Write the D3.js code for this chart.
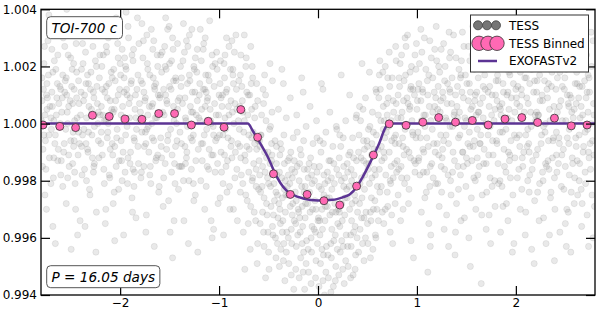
<!DOCTYPE html>
<html>
<head>
<meta charset="utf-8">
<script src="https://cdn.jsdelivr.net/npm/d3@7"></script>
<style>
  body { margin: 0; background: #fff; }
  svg { display: block; font-family: "DejaVu Sans", sans-serif; }
</style>
</head>
<body>
<svg id="chart" width="598" height="313"></svg>
<script>
// raw TESS points, phase (days) / relative flux, read strip by strip off the plot
const tessPoints = [
  [-2.79,1.0008],[-2.78,0.9991],[-2.77,1.0021],[-2.76,1.0003],[-2.75,0.9984],[-2.74,1.0014],[-2.73,1.0029],[-2.72,0.9996],[-2.71,1.0006],[-2.70,0.9979],[-2.69,1.0011],[-2.68,0.9964],[-2.68,1.0018],[-2.67,1.0001],[-2.66,0.9993],[-2.65,1.0034],[-2.64,1.0009],[-2.63,0.9987],[-2.63,1.0024],[-2.62,0.9999],[-2.61,1.0013],[-2.60,0.9982],[-2.79,1.0016],[-2.77,0.9996],[-2.74,1.0005],[-2.72,1.0038],[-2.70,1.0002],[-2.67,0.9988],[-2.65,1.0019],[-2.62,1.0007],[-2.76,0.9975],[-2.69,1.0026],
  [-2.59,1.0004],[-2.58,1.0017],[-2.57,0.9990],[-2.56,1.0027],[-2.55,0.9998],[-2.54,1.0010],[-2.53,0.9981],[-2.52,1.0006],[-2.51,1.0032],[-2.50,0.9994],[-2.49,1.0013],[-2.48,0.9986],[-2.47,1.0021],[-2.46,1.0001],[-2.45,0.9970],[-2.44,1.0009],[-2.43,0.9961],[-2.42,1.0015],[-2.41,0.9993],[-2.40,1.0003],[-2.58,0.9978],[-2.56,1.0011],[-2.54,1.0040],[-2.52,0.9989],[-2.50,1.0023],[-2.48,1.0007],[-2.46,0.9983],[-2.44,1.0018],[-2.42,0.9997],[-2.60,1.0012],[-2.53,1.0000],[-2.47,0.9992],
  [-2.39,1.0019],[-2.38,0.9996],[-2.37,1.0008],[-2.36,0.9984],[-2.35,1.0025],[-2.34,1.0002],[-2.33,0.9991],[-2.32,1.0014],[-2.31,0.9977],[-2.30,1.0033],[-2.29,1.0005],[-2.28,0.9988],[-2.27,1.0011],[-2.26,0.9999],[-2.25,1.0022],[-2.24,0.9969],[-2.23,1.0007],[-2.22,0.9994],[-2.21,1.0016],[-2.20,1.0003],[-2.38,1.0028],[-2.36,1.0010],[-2.34,0.9980],[-2.32,0.9997],[-2.30,1.0012],[-2.28,1.0036],[-2.26,0.9986],[-2.24,1.0020],[-2.22,1.0004],[-2.39,0.9992],[-2.33,1.0017],[-2.27,0.9983],
  [-2.19,1.0006],[-2.18,0.9989],[-2.17,1.0024],[-2.16,1.0001],[-2.15,0.9965],[-2.14,1.0013],[-2.13,0.9995],[-2.12,1.0030],[-2.11,0.9982],[-2.10,1.0008],[-2.09,1.0018],[-2.08,0.9993],[-2.07,1.0004],[-2.06,0.9976],[-2.05,1.0015],[-2.04,1.0037],[-2.03,0.9998],[-2.02,1.0010],[-2.01,0.9987],[-2.00,1.0021],[-2.18,1.0012],[-2.16,0.9979],[-2.14,1.0027],[-2.12,1.0000],[-2.10,0.9991],[-2.08,1.0016],[-2.06,1.0005],[-2.04,0.9985],[-2.02,1.0023],[-2.19,0.9997],[-2.13,1.0009],[-2.07,0.9972],
  [-1.99,1.0003],[-1.98,1.0026],[-1.97,0.9990],[-1.96,1.0011],[-1.95,0.9983],[-1.94,1.0019],[-1.93,0.9999],[-1.92,1.0034],[-1.91,1.0007],[-1.90,0.9986],[-1.89,1.0014],[-1.88,0.9974],[-1.87,1.0022],[-1.86,0.9995],[-1.85,1.0005],[-1.84,0.9967],[-1.83,1.0012],[-1.82,0.9992],[-1.81,1.0028],[-1.80,1.0001],[-1.98,0.9980],[-1.96,1.0016],[-1.94,1.0039],[-1.92,0.9988],[-1.90,1.0009],[-1.88,1.0024],[-1.86,0.9978],[-1.84,1.0002],[-1.82,1.0017],[-1.99,0.9994],[-1.93,1.0010],[-1.87,0.9984],
  [-1.79,1.0015],[-1.78,0.9997],[-1.77,1.0023],[-1.76,0.9985],[-1.75,1.0008],[-1.74,0.9962],[-1.73,1.0031],[-1.72,1.0003],[-1.71,0.9990],[-1.70,1.0017],[-1.69,0.9979],[-1.68,1.0006],[-1.67,1.0026],[-1.66,0.9994],[-1.65,1.0012],[-1.64,0.9987],[-1.63,1.0002],[-1.62,1.0020],[-1.61,0.9976],[-1.60,1.0009],[-1.78,1.0035],[-1.76,1.0011],[-1.74,0.9993],[-1.72,1.0019],[-1.70,0.9982],[-1.68,1.0000],[-1.66,1.0029],[-1.64,1.0014],[-1.62,0.9989],[-1.79,0.9981],[-1.73,0.9998],[-1.67,1.0007],
  [-1.59,0.9995],[-1.58,1.0018],[-1.57,1.0004],[-1.56,0.9981],[-1.55,1.0027],[-1.54,1.0010],[-1.53,0.9991],[-1.52,1.0033],[-1.51,0.9973],[-1.50,1.0013],[-1.49,0.9998],[-1.48,1.0022],[-1.47,0.9953],[-1.46,1.0006],[-1.45,0.9986],[-1.44,1.0016],[-1.43,1.0000],[-1.42,1.0028],[-1.41,0.9977],[-1.40,1.0009],[-1.58,0.9988],[-1.56,1.0012],[-1.54,1.0037],[-1.52,0.9994],[-1.50,1.0021],[-1.48,0.9983],[-1.46,1.0015],[-1.44,0.9992],[-1.42,1.0005],[-1.59,1.0024],[-1.53,1.0008],[-1.47,1.0030],
  [-1.39,1.0020],[-1.38,0.9993],[-1.37,1.0007],[-1.36,0.9980],[-1.35,1.0025],[-1.34,1.0002],[-1.33,0.9988],[-1.32,1.0014],[-1.31,0.9958],[-1.30,1.0031],[-1.29,1.0006],[-1.28,0.9984],[-1.27,1.0011],[-1.26,0.9996],[-1.25,1.0019],[-1.24,0.9975],[-1.23,1.0003],[-1.22,1.0026],[-1.21,0.9991],[-1.20,1.0010],[-1.38,1.0016],[-1.36,1.0035],[-1.34,0.9986],[-1.32,0.9999],[-1.30,1.0017],[-1.28,1.0004],[-1.26,0.9979],[-1.24,1.0023],[-1.22,1.0008],[-1.39,0.9985],[-1.33,1.0029],[-1.27,0.9994],
  [-1.19,1.0001],[-1.18,1.0022],[-1.17,0.9987],[-1.16,1.0012],[-1.15,0.9996],[-1.14,1.0030],[-1.13,0.9978],[-1.12,1.0008],[-1.11,1.0017],[-1.10,0.9991],[-1.09,1.0005],[-1.08,0.9966],[-1.07,1.0024],[-1.06,0.9999],[-1.05,1.0013],[-1.04,0.9983],[-1.03,1.0003],[-1.02,1.0019],[-1.01,0.9972],[-1.00,1.0010],[-1.18,0.9993],[-1.16,1.0026],[-1.14,1.0006],[-1.12,0.9985],[-1.10,1.0015],[-1.08,1.0000],[-1.06,0.9989],[-1.04,1.0021],[-1.02,0.9995],[-1.19,1.0033],[-1.13,1.0011],[-1.07,0.9960],
  [-0.99,1.0014],[-0.98,0.9990],[-0.97,1.0006],[-0.96,0.9979],[-0.95,1.0021],[-0.94,1.0002],[-0.93,0.9985],[-0.92,1.0012],[-0.91,0.9995],[-0.90,1.0027],[-0.89,0.9970],[-0.88,1.0008],[-0.87,0.9988],[-0.86,1.0017],[-0.85,1.0000],[-0.84,0.9981],[-0.83,1.0031],[-0.82,1.0005],[-0.81,0.9993],[-0.80,1.0015],[-0.98,1.0009],[-0.96,0.9996],[-0.94,1.0024],[-0.92,0.9976],[-0.90,1.0003],[-0.88,0.9992],[-0.86,1.0019],[-0.84,1.0007],[-0.82,0.9984],[-0.99,0.9974],[-0.93,1.0011],[-0.87,1.0029],
  [-0.79,1.0006],[-0.78,0.9988],[-0.77,1.0013],[-0.76,0.9979],[-0.75,0.9997],[-0.74,0.9949],[-0.73,1.0020],[-0.72,0.9992],[-0.71,1.0003],[-0.70,0.9983],[-0.69,1.0010],[-0.68,0.9971],[-0.67,0.9995],[-0.66,1.0016],[-0.65,0.9986],[-0.64,1.0002],[-0.63,0.9966],[-0.62,0.9991],[-0.61,1.0008],[-0.60,0.9977],[-0.78,1.0024],[-0.76,1.0004],[-0.74,0.9989],[-0.72,1.0011],[-0.70,0.9996],[-0.68,1.0027],[-0.66,0.9981],[-0.64,0.9993],[-0.62,1.0014],[-0.79,0.9992],[-0.73,0.9975],[-0.67,1.0005],[-0.61,0.9958],
  [-0.59,0.9994],[-0.58,0.9976],[-0.57,1.0003],[-0.56,0.9985],[-0.55,0.9962],[-0.54,0.9990],[-0.53,1.0010],[-0.52,0.9972],[-0.51,0.9981],[-0.50,0.9955],[-0.49,0.9998],[-0.48,0.9978],[-0.47,0.9987],[-0.46,1.0015],[-0.45,0.9968],[-0.44,0.9983],[-0.43,0.9960],[-0.42,0.9992],[-0.41,0.9975],[-0.40,1.0005],[-0.58,0.9996],[-0.56,0.9969],[-0.54,1.0017],[-0.52,0.9988],[-0.50,0.9979],[-0.48,0.9999],[-0.46,0.9964],[-0.44,0.9973],[-0.42,0.9986],[-0.59,0.9982],[-0.53,0.9946],[-0.47,0.9993],[-0.41,0.9958],[-0.55,1.0007],
  [-0.39,0.9983],[-0.38,0.9965],[-0.37,0.9991],[-0.36,0.9974],[-0.35,0.9952],[-0.34,0.9986],[-0.33,0.9969],[-0.32,1.0002],[-0.31,0.9978],[-0.30,0.9960],[-0.29,0.9988],[-0.28,0.9971],[-0.27,0.9947],[-0.26,0.9981],[-0.25,0.9995],[-0.24,0.9966],[-0.23,0.9976],[-0.22,0.9957],[-0.21,0.9985],[-0.20,0.9970],[-0.38,0.9993],[-0.36,0.9962],[-0.34,0.9977],[-0.32,0.9955],[-0.30,0.9982],[-0.28,1.0009],[-0.26,0.9968],[-0.24,0.9987],[-0.22,0.9973],[-0.39,0.9950],[-0.33,0.9980],[-0.27,0.9963],[-0.21,0.9997],[-0.35,1.0014],
  [-0.19,0.9980],[-0.18,0.9962],[-0.17,0.9989],[-0.16,0.9971],[-0.15,0.9948],[-0.14,0.9984],[-0.13,0.9967],[-0.12,0.9999],[-0.11,0.9975],[-0.10,0.9956],[-0.09,0.9986],[-0.08,0.9969],[-0.07,0.9944],[-0.06,0.9979],[-0.05,0.9993],[-0.04,0.9963],[-0.03,0.9973],[-0.02,0.9952],[-0.01,0.9983],[0.00,0.9966],[-0.18,0.9991],[-0.16,0.9958],[-0.14,0.9976],[-0.12,0.9951],[-0.10,0.9981],[-0.08,1.0006],[-0.06,0.9964],[-0.04,0.9985],[-0.02,0.9970],[-0.19,0.9946],[-0.13,0.9978],[-0.07,0.9960],[-0.01,0.9995],[-0.15,1.0011],
  [0.01,0.9978],[0.02,0.9961],[0.03,0.9990],[0.04,0.9970],[0.05,0.9945],[0.06,0.9982],[0.07,0.9966],[0.08,0.9997],[0.09,0.9974],[0.10,0.9954],[0.11,0.9987],[0.12,0.9968],[0.13,0.9941],[0.14,0.9977],[0.15,0.9992],[0.16,0.9959],[0.17,0.9972],[0.18,0.9950],[0.19,0.9984],[0.20,0.9965],[0.02,0.9994],[0.04,0.9956],[0.06,0.9975],[0.08,0.9948],[0.10,0.9980],[0.12,1.0004],[0.14,0.9963],[0.16,0.9986],[0.18,0.9969],[0.01,0.9943],[0.07,0.9979],[0.13,0.9958],[0.19,0.9998],[0.05,1.0012],
  [0.21,0.9982],[0.22,0.9964],[0.23,0.9992],[0.24,0.9972],[0.25,0.9949],[0.26,0.9985],[0.27,0.9968],[0.28,1.0001],[0.29,0.9977],[0.30,0.9957],[0.31,0.9989],[0.32,0.9970],[0.33,0.9946],[0.34,0.9980],[0.35,0.9995],[0.36,0.9962],[0.37,0.9975],[0.38,0.9954],[0.39,0.9987],[0.40,0.9969],[0.22,0.9996],[0.24,0.9959],[0.26,0.9978],[0.28,0.9952],[0.30,0.9983],[0.32,1.0010],[0.34,0.9966],[0.36,0.9988],[0.38,0.9973],[0.21,0.9947],[0.27,0.9981],[0.33,0.9961],[0.39,1.0003],
  [0.41,0.9990],[0.42,0.9972],[0.43,1.0001],[0.44,0.9981],[0.45,0.9958],[0.46,0.9994],[0.47,0.9977],[0.48,1.0009],[0.49,0.9986],[0.50,0.9965],[0.51,0.9998],[0.52,0.9979],[0.53,0.9953],[0.54,0.9989],[0.55,1.0004],[0.56,0.9970],[0.57,0.9984],[0.58,0.9961],[0.59,0.9996],[0.60,0.9978],[0.42,1.0006],[0.44,0.9967],[0.46,0.9987],[0.48,0.9960],[0.50,0.9992],[0.52,1.0018],[0.54,0.9974],[0.56,0.9997],[0.58,0.9982],[0.41,0.9955],[0.47,0.9991],[0.53,0.9969],[0.59,1.0011],
  [0.61,1.0003],[0.62,0.9984],[0.63,1.0012],[0.64,0.9992],[0.65,0.9969],[0.66,1.0006],[0.67,0.9988],[0.68,1.0020],[0.69,0.9997],[0.70,0.9976],[0.71,1.0009],[0.72,0.9990],[0.73,0.9962],[0.74,1.0001],[0.75,1.0016],[0.76,0.9981],[0.77,0.9995],[0.78,0.9972],[0.79,1.0007],[0.80,0.9987],[0.62,1.0017],[0.64,0.9978],[0.66,0.9998],[0.68,0.9970],[0.70,1.0003],[0.72,1.0025],[0.74,0.9985],[0.76,1.0008],[0.78,0.9993],[0.61,0.9966],[0.67,1.0001],[0.73,0.9980],[0.79,1.0022],
  [0.81,1.0010],[0.82,0.9993],[0.83,1.0021],[0.84,0.9985],[0.85,1.0004],[0.86,0.9970],[0.87,1.0015],[0.88,0.9998],[0.89,1.0027],[0.90,0.9981],[0.91,1.0007],[0.92,0.9990],[0.93,1.0018],[0.94,0.9959],[0.95,1.0001],[0.96,1.0012],[0.97,0.9987],[0.98,1.0024],[0.99,0.9995],[1.00,1.0005],[0.82,1.0016],[0.84,1.0002],[0.86,0.9992],[0.88,1.0030],[0.90,1.0009],[0.92,0.9977],[0.94,1.0013],[0.96,0.9996],[0.98,0.9983],[0.81,0.9975],[0.87,0.9989],[0.93,1.0006],[0.99,1.0019],
  [1.01,0.9997],[1.02,1.0014],[1.03,0.9982],[1.04,1.0008],[1.05,1.0025],[1.06,0.9991],[1.07,1.0003],[1.08,0.9974],[1.09,1.0019],[1.10,0.9995],[1.11,1.0010],[1.12,0.9965],[1.13,1.0029],[1.14,1.0001],[1.15,0.9986],[1.16,1.0016],[1.17,0.9993],[1.18,1.0006],[1.19,0.9979],[1.20,1.0022],[1.02,0.9988],[1.04,1.0033],[1.06,1.0011],[1.08,0.9999],[1.10,0.9983],[1.12,1.0017],[1.14,0.9961],[1.16,1.0004],[1.18,1.0026],[1.01,1.0012],[1.07,0.9990],[1.13,0.9978],[1.19,1.0009],[1.11,0.9948],
  [1.21,1.0005],[1.22,0.9989],[1.23,1.0018],[1.24,0.9996],[1.25,0.9976],[1.26,1.0011],[1.27,1.0028],[1.28,0.9984],[1.29,1.0002],[1.30,0.9968],[1.31,1.0014],[1.32,0.9993],[1.33,1.0023],[1.34,0.9980],[1.35,1.0007],[1.36,0.9999],[1.37,1.0031],[1.38,0.9987],[1.39,1.0010],[1.40,0.9972],[1.22,1.0020],[1.24,1.0008],[1.26,0.9991],[1.28,1.0015],[1.30,1.0001],[1.32,0.9957],[1.34,1.0025],[1.36,0.9983],[1.38,1.0004],[1.21,0.9979],[1.27,0.9994],[1.33,1.0012],[1.39,0.9962],
  [1.41,1.0013],[1.42,0.9995],[1.43,1.0004],[1.44,0.9982],[1.45,1.0022],[1.46,0.9990],[1.47,1.0009],[1.48,0.9967],[1.49,1.0017],[1.50,1.0001],[1.51,0.9986],[1.52,1.0027],[1.53,0.9997],[1.54,1.0011],[1.55,0.9974],[1.56,1.0006],[1.57,0.9992],[1.58,1.0019],[1.59,0.9980],[1.60,1.0003],[1.42,0.9977],[1.44,1.0016],[1.46,1.0032],[1.48,0.9999],[1.50,0.9988],[1.52,1.0008],[1.54,0.9950],[1.56,1.0024],[1.58,0.9994],[1.41,1.0002],[1.47,0.9985],[1.53,1.0014],[1.59,1.0010],
  [1.61,0.9998],[1.62,1.0016],[1.63,0.9985],[1.64,1.0007],[1.65,1.0024],[1.66,0.9975],[1.67,1.0002],[1.68,0.9991],[1.69,1.0012],[1.70,0.9963],[1.71,1.0020],[1.72,0.9996],[1.73,1.0006],[1.74,0.9981],[1.75,1.0029],[1.76,1.0010],[1.77,0.9989],[1.78,1.0001],[1.79,0.9971],[1.80,1.0015],[1.62,1.0004],[1.64,0.9993],[1.66,1.0019],[1.68,1.0035],[1.70,0.9986],[1.72,1.0011],[1.74,0.9999],[1.76,0.9978],[1.78,1.0023],[1.61,0.9988],[1.67,1.0013],[1.73,0.9968],[1.79,1.0005],[1.65,0.9944],
  [1.81,1.0008],[1.82,0.9986],[1.83,1.0021],[1.84,0.9997],[1.85,1.0003],[1.86,0.9978],[1.87,1.0014],[1.88,0.9991],[1.89,1.0026],[1.90,0.9983],[1.91,1.0010],[1.92,0.9966],[1.93,1.0005],[1.94,1.0017],[1.95,0.9994],[1.96,1.0001],[1.97,0.9975],[1.98,1.0030],[1.99,0.9988],[2.00,1.0012],[1.82,1.0015],[1.84,0.9980],[1.86,1.0007],[1.88,1.0022],[1.90,0.9998],[1.92,1.0011],[1.94,0.9989],[1.96,1.0033],[1.98,0.9958],[1.81,0.9993],[1.87,0.9971],[1.93,1.0018],[1.99,1.0004],
  [2.01,0.9995],[2.02,1.0013],[2.03,0.9984],[2.04,1.0006],[2.05,1.0023],[2.06,0.9977],[2.07,1.0002],[2.08,0.9990],[2.09,1.0016],[2.10,0.9969],[2.11,1.0009],[2.12,0.9998],[2.13,1.0028],[2.14,0.9982],[2.15,1.0004],[2.16,1.0019],[2.17,0.9987],[2.18,1.0011],[2.19,0.9973],[2.20,1.0001],[2.02,1.0025],[2.04,0.9992],[2.06,1.0010],[2.08,1.0034],[2.10,0.9996],[2.12,0.9980],[2.14,1.0014],[2.16,0.9956],[2.18,1.0020],[2.01,1.0007],[2.07,0.9985],[2.13,0.9993],[2.19,1.0015],
  [2.21,1.0011],[2.22,0.9991],[2.23,1.0003],[2.24,0.9979],[2.25,1.0020],[2.26,0.9996],[2.27,1.0008],[2.28,0.9967],[2.29,1.0015],[2.30,1.0000],[2.31,0.9985],[2.32,1.0026],[2.33,0.9994],[2.34,1.0005],[2.35,0.9974],[2.36,1.0013],[2.37,0.9988],[2.38,1.0022],[2.39,0.9981],[2.40,1.0002],[2.22,0.9976],[2.24,1.0017],[2.26,1.0031],[2.28,0.9999],[2.30,0.9986],[2.32,1.0009],[2.34,0.9961],[2.36,1.0024],[2.38,0.9995],[2.21,1.0004],[2.27,0.9983],[2.33,1.0014],[2.39,0.9952],
  [2.41,0.9997],[2.42,1.0016],[2.43,0.9986],[2.44,1.0006],[2.45,1.0027],[2.46,0.9978],[2.47,1.0001],[2.48,0.9991],[2.49,1.0012],[2.50,0.9965],[2.51,1.0019],[2.52,0.9995],[2.53,1.0007],[2.54,0.9982],[2.55,1.0029],[2.56,1.0009],[2.57,0.9988],[2.58,1.0002],[2.59,0.9972],[2.60,1.0014],[2.42,1.0004],[2.44,0.9993],[2.46,1.0020],[2.48,1.0033],[2.50,0.9985],[2.52,1.0010],[2.54,0.9998],[2.56,0.9976],[2.58,1.0023],[2.41,0.9989],[2.47,1.0013],[2.53,0.9969],[2.59,1.0005],[2.51,0.9957],
  [2.61,1.0007],[2.62,0.9987],[2.63,1.0020],[2.64,0.9996],[2.65,1.0002],[2.66,0.9977],[2.67,1.0013],[2.68,0.9990],[2.69,1.0025],[2.70,0.9983],[2.71,1.0009],[2.72,0.9968],[2.73,1.0004],[2.74,1.0016],[2.75,0.9993],[2.76,1.0000],[2.77,0.9975],[2.78,1.0029],[2.79,0.9989],[2.62,1.0014],[2.64,0.9980],[2.66,1.0006],[2.68,1.0021],[2.70,0.9997],[2.72,1.0011],[2.74,0.9988],[2.76,1.0032],[2.78,0.9960],[2.61,0.9992],[2.67,0.9972],[2.73,1.0017],[2.79,1.0003]
];

// second pass of raw points, read between the first ones
const tessPointsB = [
  [-2.795,1.0001],[-2.785,0.9985],[-2.775,1.0012],[-2.765,1.0027],[-2.755,0.9994],[-2.745,0.9970],[-2.735,1.0009],[-2.725,1.0017],[-2.715,0.9988],[-2.705,1.0031],[-2.695,0.9998],[-2.685,1.0006],[-2.675,0.9981],[-2.665,1.0022],[-2.655,0.9958],[-2.645,1.0003],[-2.635,1.0014],[-2.625,0.9991],[-2.615,1.0036],[-2.605,1.0000],[-2.745,1.0010],[-2.655,0.9996],
  [-2.595,0.9987],[-2.585,1.0009],[-2.575,1.0030],[-2.565,0.9993],[-2.555,1.0015],[-2.545,0.9972],[-2.535,1.0004],[-2.525,1.0024],[-2.515,0.9985],[-2.505,1.0008],[-2.495,0.9956],[-2.485,1.0019],[-2.475,0.9997],[-2.465,1.0012],[-2.455,0.9979],[-2.445,1.0028],[-2.435,1.0002],[-2.425,0.9989],[-2.415,1.0007],[-2.405,0.9966],[-2.545,1.0016],[-2.465,0.9994],
  [-2.395,1.0011],[-2.385,0.9982],[-2.375,1.0021],[-2.365,0.9998],[-2.355,0.9964],[-2.345,1.0014],[-2.335,1.0035],[-2.325,0.9990],[-2.315,1.0006],[-2.305,0.9975],[-2.295,1.0018],[-2.285,0.9996],[-2.275,1.0027],[-2.265,0.9985],[-2.255,1.0003],[-2.245,0.9955],[-2.235,1.0013],[-2.225,1.0000],[-2.215,0.9988],[-2.205,1.0024],[-2.345,0.9993],[-2.265,1.0009],
  [-2.195,0.9993],[-2.185,1.0020],[-2.175,1.0003],[-2.165,0.9984],[-2.155,1.0011],[-2.145,0.9970],[-2.135,1.0025],[-2.125,0.9997],[-2.115,1.0014],[-2.105,0.9981],[-2.095,1.0032],[-2.085,1.0005],[-2.075,0.9989],[-2.065,1.0019],[-2.055,0.9959],[-2.045,1.0008],[-2.035,0.9995],[-2.025,1.0028],[-2.015,0.9977],[-2.005,1.0012],[-2.145,1.0001],[-2.055,0.9992],
  [-1.995,1.0017],[-1.985,0.9987],[-1.975,1.0006],[-1.965,0.9961],[-1.955,1.0023],[-1.945,0.9996],[-1.935,1.0012],[-1.925,0.9979],[-1.915,1.0030],[-1.905,1.0002],[-1.895,0.9990],[-1.885,1.0015],[-1.875,0.9969],[-1.865,1.0026],[-1.855,0.9983],[-1.845,1.0010],[-1.835,0.9998],[-1.825,1.0037],[-1.815,0.9986],[-1.805,1.0007],[-1.945,1.0020],[-1.855,0.9994],
  [-1.795,1.0004],[-1.785,0.9983],[-1.775,1.0014],[-1.765,1.0029],[-1.755,0.9992],[-1.745,1.0009],[-1.735,0.9968],[-1.725,1.0021],[-1.715,0.9999],[-1.705,1.0006],[-1.695,0.9985],[-1.685,1.0033],[-1.675,0.9995],[-1.665,1.0016],[-1.655,0.9957],[-1.645,1.0002],[-1.635,0.9988],[-1.625,1.0024],[-1.615,1.0010],[-1.605,0.9978],[-1.745,0.9997],[-1.655,1.0013],
  [-1.595,1.0010],[-1.585,0.9992],[-1.575,1.0025],[-1.565,0.9971],[-1.555,1.0003],[-1.545,0.9986],[-1.535,1.0019],[-1.525,1.0007],[-1.515,0.9996],[-1.505,1.0034],[-1.495,0.9962],[-1.485,1.0012],[-1.475,0.9989],[-1.465,1.0026],[-1.455,1.0001],[-1.445,0.9979],[-1.435,1.0015],[-1.425,0.9994],[-1.415,1.0008],[-1.405,0.9985],[-1.545,1.0020],[-1.455,0.9966],
  [-1.395,0.9997],[-1.385,1.0013],[-1.375,0.9985],[-1.365,1.0022],[-1.355,0.9966],[-1.345,1.0009],[-1.335,1.0001],[-1.325,0.9990],[-1.315,1.0027],[-1.305,0.9980],[-1.295,1.0015],[-1.285,0.9995],[-1.275,1.0033],[-1.265,1.0004],[-1.255,0.9973],[-1.245,1.0011],[-1.235,0.9987],[-1.225,1.0018],[-1.215,0.9955],[-1.205,1.0002],[-1.345,0.9992],[-1.255,1.0020],
  [-1.195,1.0014],[-1.185,0.9980],[-1.175,1.0005],[-1.165,0.9993],[-1.155,1.0028],[-1.145,0.9970],[-1.135,1.0017],[-1.125,0.9998],[-1.115,1.0009],[-1.105,0.9984],[-1.095,1.0036],[-1.085,1.0001],[-1.075,0.9989],[-1.065,1.0020],[-1.055,0.9963],[-1.045,1.0007],[-1.035,0.9994],[-1.025,1.0025],[-1.015,0.9986],[-1.005,1.0003],[-1.145,1.0012],[-1.055,0.9996],
  [-0.995,0.9996],[-0.985,1.0022],[-0.975,0.9983],[-0.965,1.0010],[-0.955,0.9961],[-0.945,1.0016],[-0.935,0.9998],[-0.925,1.0030],[-0.915,0.9987],[-0.905,1.0006],[-0.895,0.9978],[-0.885,1.0019],[-0.875,0.9994],[-0.865,1.0004],[-0.855,0.9970],[-0.845,1.0025],[-0.835,0.9990],[-0.825,1.0012],[-0.815,0.9966],[-0.805,1.0001],[-0.945,0.9989],[-0.855,1.0014],
  [-0.795,0.9998],[-0.785,1.0017],[-0.775,0.9982],[-0.765,1.0008],[-0.755,0.9962],[-0.745,1.0001],[-0.735,0.9987],[-0.725,1.0023],[-0.715,0.9973],[-0.705,1.0010],[-0.695,0.9991],[-0.685,0.9956],[-0.675,1.0014],[-0.665,0.9980],[-0.655,0.9997],[-0.645,0.9969],[-0.635,1.0006],[-0.625,0.9984],[-0.615,0.9951],[-0.605,0.9994],[-0.785,0.9976],[-0.745,1.0031],[-0.705,0.9965],[-0.665,1.0020],[-0.625,0.9978],
  [-0.595,0.9987],[-0.585,0.9965],[-0.575,0.9996],[-0.565,0.9978],[-0.555,1.0012],[-0.545,0.9957],[-0.535,0.9983],[-0.525,1.0001],[-0.515,0.9968],[-0.505,0.9990],[-0.495,0.9949],[-0.485,0.9986],[-0.475,0.9971],[-0.465,1.0004],[-0.455,0.9961],[-0.445,0.9979],[-0.435,0.9994],[-0.425,0.9953],[-0.415,0.9982],[-0.405,0.9967],[-0.585,0.9992],[-0.545,0.9974],[-0.505,0.9962],[-0.465,0.9989],[-0.425,0.9976],[-0.485,1.0021],
  [-0.395,0.9972],[-0.385,0.9989],[-0.375,0.9956],[-0.365,0.9981],[-0.355,0.9966],[-0.345,0.9996],[-0.335,0.9945],[-0.325,0.9975],[-0.315,0.9962],[-0.305,0.9987],[-0.295,0.9951],[-0.285,0.9979],[-0.275,0.9990],[-0.265,0.9958],[-0.255,0.9972],[-0.245,0.9942],[-0.235,0.9983],[-0.225,0.9965],[-0.215,1.0003],[-0.205,0.9961],[-0.385,0.9970],[-0.345,0.9958],[-0.305,0.9975],[-0.265,0.9984],[-0.225,0.9949],[-0.365,1.0019],
  [-0.195,0.9969],[-0.185,0.9986],[-0.175,0.9953],[-0.165,0.9978],[-0.155,0.9964],[-0.145,0.9994],[-0.135,0.9942],[-0.125,0.9972],[-0.115,0.9959],[-0.105,0.9984],[-0.095,0.9948],[-0.085,0.9976],[-0.075,0.9988],[-0.065,0.9955],[-0.055,0.9970],[-0.045,0.9939],[-0.035,0.9980],[-0.025,0.9962],[-0.015,1.0001],[-0.005,0.9958],[-0.185,0.9967],[-0.145,0.9955],[-0.105,0.9972],[-0.065,0.9982],[-0.025,0.9946],[-0.165,1.0016],
  [0.005,0.9967],[0.015,0.9985],[0.025,0.9951],[0.035,0.9977],[0.045,0.9963],[0.055,0.9993],[0.065,0.9940],[0.075,0.9971],[0.085,0.9957],[0.095,0.9983],[0.105,0.9946],[0.115,0.9974],[0.125,0.9987],[0.135,0.9953],[0.145,0.9969],[0.155,0.9943],[0.165,0.9979],[0.175,0.9961],[0.185,0.9999],[0.195,0.9956],[0.015,0.9966],[0.055,0.9954],[0.095,0.9971],[0.135,0.9981],[0.175,0.9945],[0.035,1.0014],
  [0.205,0.9970],[0.215,0.9988],[0.225,0.9955],[0.235,0.9980],[0.245,0.9966],[0.255,0.9995],[0.265,0.9944],[0.275,0.9974],[0.285,0.9961],[0.295,0.9986],[0.305,0.9950],[0.315,0.9978],[0.325,0.9990],[0.335,0.9957],[0.345,0.9972],[0.355,0.9947],[0.365,0.9982],[0.375,0.9964],[0.385,1.0002],[0.395,0.9960],[0.215,0.9969],[0.255,0.9957],[0.295,0.9974],[0.335,0.9984],[0.375,0.9949],[0.235,1.0017],
  [0.405,0.9978],[0.415,0.9996],[0.425,0.9963],[0.435,0.9988],[0.445,0.9974],[0.455,1.0005],[0.465,0.9952],[0.475,0.9982],[0.485,0.9969],[0.495,0.9994],[0.505,0.9958],[0.515,0.9986],[0.525,0.9999],[0.535,0.9966],[0.545,0.9981],[0.555,0.9956],[0.565,0.9991],[0.575,0.9973],[0.585,1.0012],[0.595,0.9970],[0.425,0.9979],[0.465,0.9967],[0.505,0.9984],[0.545,0.9993],[0.585,0.9960],[0.445,1.0021],
  [0.605,0.9991],[0.615,1.0009],[0.625,0.9976],[0.635,1.0001],[0.645,0.9987],[0.655,1.0018],[0.665,0.9965],[0.675,0.9995],[0.685,0.9982],[0.695,1.0007],[0.705,0.9971],[0.715,0.9999],[0.725,1.0013],[0.735,0.9979],[0.745,0.9994],[0.755,0.9958],[0.765,1.0004],[0.775,0.9986],[0.785,1.0027],[0.795,0.9983],[0.625,1.0022],[0.665,0.9990],[0.705,1.0016],[0.745,0.9968],[0.785,0.9996],
  [0.805,1.0002],[0.815,0.9984],[0.825,1.0013],[0.835,0.9966],[0.845,1.0024],[0.855,0.9995],[0.865,1.0008],[0.875,0.9979],[0.885,1.0017],[0.895,0.9991],[0.905,1.0031],[0.915,0.9972],[0.925,1.0005],[0.935,0.9988],[0.945,1.0020],[0.955,0.9997],[0.965,0.9953],[0.975,1.0010],[0.985,0.9986],[0.995,1.0028],[0.845,0.9981],[0.935,1.0012],
  [1.005,1.0008],[1.015,0.9987],[1.025,1.0021],[1.035,0.9995],[1.045,0.9969],[1.055,1.0012],[1.065,0.9983],[1.075,1.0030],[1.085,1.0003],[1.095,0.9976],[1.105,1.0015],[1.115,0.9992],[1.125,1.0006],[1.135,0.9957],[1.145,1.0023],[1.155,0.9998],[1.165,0.9981],[1.175,1.0011],[1.185,0.9990],[1.195,1.0034],[1.045,1.0001],[1.135,0.9985],
  [1.205,0.9993],[1.215,1.0013],[1.225,0.9971],[1.235,1.0004],[1.245,1.0026],[1.255,0.9988],[1.265,1.0009],[1.275,0.9963],[1.285,1.0020],[1.295,0.9996],[1.305,1.0007],[1.315,0.9982],[1.325,1.0032],[1.335,0.9999],[1.345,0.9975],[1.355,1.0016],[1.365,0.9990],[1.375,1.0003],[1.385,0.9954],[1.395,1.0023],[1.245,0.9985],[1.335,1.0011],
  [1.405,1.0006],[1.415,0.9985],[1.425,1.0019],[1.435,0.9996],[1.445,0.9966],[1.455,1.0011],[1.465,0.9990],[1.475,1.0027],[1.485,1.0002],[1.495,0.9978],[1.505,1.0014],[1.515,0.9993],[1.525,0.9960],[1.535,1.0022],[1.545,1.0005],[1.555,0.9987],[1.565,1.0034],[1.575,0.9981],[1.585,1.0008],[1.595,0.9970],[1.445,1.0017],[1.535,0.9992],
  [1.605,1.0011],[1.615,0.9982],[1.625,1.0004],[1.635,0.9993],[1.645,1.0028],[1.655,0.9968],[1.665,1.0009],[1.675,0.9986],[1.685,1.0017],[1.695,1.0000],[1.705,0.9976],[1.715,1.0025],[1.725,0.9989],[1.735,1.0013],[1.745,0.9958],[1.755,1.0003],[1.765,0.9994],[1.775,1.0031],[1.785,0.9980],[1.795,1.0010],[1.645,0.9996],[1.735,1.0020],
  [1.805,0.9994],[1.815,1.0017],[1.825,0.9979],[1.835,1.0006],[1.845,0.9962],[1.855,1.0023],[1.865,0.9997],[1.875,1.0011],[1.885,0.9985],[1.895,1.0033],[1.905,0.9972],[1.915,1.0002],[1.925,0.9990],[1.935,1.0026],[1.945,0.9981],[1.955,1.0009],[1.965,0.9955],[1.975,1.0014],[1.985,0.9996],[1.995,1.0021],[1.845,1.0005],[1.935,0.9987],
  [2.005,1.0009],[2.015,0.9981],[2.025,1.0020],[2.035,0.9996],[2.045,0.9970],[2.055,1.0012],[2.065,0.9988],[2.075,1.0029],[2.085,1.0004],[2.095,0.9961],[2.105,1.0016],[2.115,0.9992],[2.125,1.0007],[2.135,0.9976],[2.145,1.0033],[2.155,0.9999],[2.165,0.9984],[2.175,1.0024],[2.185,0.9951],[2.195,1.0003],[2.045,1.0018],[2.135,0.9990],
  [2.205,0.9989],[2.215,1.0015],[2.225,1.0003],[2.235,0.9966],[2.245,1.0027],[2.255,0.9993],[2.265,1.0010],[2.275,0.9980],[2.285,1.0021],[2.295,0.9997],[2.305,0.9958],[2.315,1.0012],[2.325,0.9987],[2.335,1.0030],[2.345,1.0001],[2.355,0.9976],[2.365,1.0018],[2.375,0.9994],[2.385,1.0006],[2.395,0.9970],[2.245,1.0008],[2.335,0.9984],
  [2.405,1.0012],[2.415,0.9983],[2.425,1.0025],[2.435,0.9995],[2.445,0.9962],[2.455,1.0008],[2.465,0.9989],[2.475,1.0031],[2.485,0.9977],[2.495,1.0016],[2.505,1.0001],[2.515,0.9970],[2.525,1.0022],[2.535,0.9993],[2.545,1.0010],[2.555,0.9955],[2.565,1.0004],[2.575,0.9986],[2.585,1.0027],[2.595,0.9981],[2.445,1.0018],[2.535,1.0006],
  [2.605,0.9995],[2.615,1.0018],[2.625,0.9975],[2.635,1.0009],[2.645,0.9986],[2.655,1.0030],[2.665,0.9964],[2.675,1.0003],[2.685,0.9992],[2.695,1.0015],[2.705,0.9979],[2.715,1.0024],[2.725,0.9998],[2.735,0.9957],[2.745,1.0011],[2.755,0.9984],[2.765,1.0020],[2.775,0.9994],[2.785,1.0007],[2.795,0.9971],[2.645,1.0013],[2.735,0.9990]
];

// binned points
const binPhase = [-2.78,-2.61,-2.45,-2.28,-2.11,-1.95,-1.78,-1.61,-1.45,-1.28,-1.11,-0.95,-0.78,-0.61,-0.45,-0.28,-0.11,0.06,0.22,0.39,0.56,0.72,0.89,1.06,1.22,1.39,1.56,1.72,1.89,2.06,2.22,2.39,2.56,2.72];
const binFlux = [0.99995,0.99990,0.99986,1.00029,1.00025,1.00016,1.00015,1.00035,1.00035,0.99995,1.00008,0.99987,1.00049,0.99952,0.99824,0.99752,0.99752,0.99730,0.99715,0.99781,0.99890,0.99999,0.99994,1.00005,1.00021,1.00005,1.00011,0.99995,1.00016,1.00021,1.00004,1.00019,0.99992,0.99995];

// EXOFASTv2 model curve
const modelPhase = [-2.8,-0.71,-0.66,-0.60,-0.50,-0.44,-0.38,-0.32,-0.25,-0.15,0.00,0.15,0.25,0.32,0.39,0.45,0.55,0.62,0.68,0.715,2.8];
const modelFlux = [1.0000,1.0000,0.99975,0.99940,0.99878,0.99830,0.99792,0.99766,0.99750,0.99738,0.99731,0.99733,0.99742,0.99752,0.99777,0.99812,0.99880,0.99932,0.99985,1.0000,1.0000];

const xTicks = [-2, -1, 0, 1, 2];
const yTicks = [0.994, 0.996, 0.998, 1.000, 1.002, 1.004];
const legendLabels = ["TESS", "TESS Binned", "EXOFASTv2"];
const planetLabel = "TOI-700 c";
const periodLabel = "P = 16.05 days";

const svg = d3.select("#chart");
const plotLeft = 41, plotRight = 595, plotTop = 9.3, plotBottom = 295;

const x = d3.scaleLinear().domain([-2.8, 2.8]).range([plotLeft, plotRight]);
const y = d3.scaleLinear().domain([0.994, 1.004]).range([plotBottom, plotTop]);

svg.append("clipPath").attr("id", "plotclip")
  .append("rect").attr("x", plotLeft).attr("y", plotTop)
  .attr("width", plotRight - plotLeft).attr("height", plotBottom - plotTop);

const plot = svg.append("g").attr("clip-path", "url(#plotclip)");

// raw points
plot.append("g")
  .selectAll("circle")
  .data(tessPoints.concat(tessPointsB))
  .enter().append("circle")
  .attr("cx", d => x(d[0]))
  .attr("cy", d => y(d[1]))
  .attr("r", 3.1)
  .attr("fill", "#777")
  .attr("fill-opacity", 0.16)
  .attr("stroke", "#777")
  .attr("stroke-opacity", 0.16)
  .attr("stroke-width", 0.8);

// model
const line = d3.line()
  .x(d => x(d[0]))
  .y(d => y(d[1]))
  .curve(d3.curveMonotoneX);

plot.append("path")
  .datum(d3.zip(modelPhase, modelFlux))
  .attr("d", line)
  .attr("fill", "none")
  .attr("stroke", "#5c3494")
  .attr("stroke-width", 2.5);

// binned
plot.append("g")
  .selectAll("circle")
  .data(d3.zip(binPhase, binFlux))
  .enter().append("circle")
  .attr("cx", d => x(d[0]))
  .attr("cy", d => y(d[1]))
  .attr("r", 4)
  .attr("fill", "#ff69b4")
  .attr("stroke", "#333")
  .attr("stroke-width", 0.8);

// axes, ticks pointing inward
const fmtY = d3.format(".3f");
const fmtX = d3.format("d");

function styleAxis(g) {
  g.select(".domain").remove();
  g.selectAll(".tick line").attr("stroke", "#000").attr("stroke-width", 1.2);
  g.selectAll("text").attr("fill", "#000").style("font-size", "12px")
    .style("font-family", "'DejaVu Sans', sans-serif");
}

svg.append("g").attr("transform", `translate(0,${plotBottom})`)
  .call(d3.axisBottom(x).tickValues(xTicks).tickFormat(fmtX).tickSize(-9).tickPadding(3))
  .call(styleAxis);
svg.append("g").attr("transform", `translate(0,${plotTop})`)
  .call(d3.axisTop(x).tickValues(xTicks).tickFormat("").tickSize(-9))
  .call(styleAxis);
svg.append("g").attr("transform", `translate(${plotLeft},0)`)
  .call(d3.axisLeft(y).tickValues(yTicks).tickFormat(fmtY).tickSize(-9).tickPadding(4))
  .call(styleAxis);
svg.append("g").attr("transform", `translate(${plotRight},0)`)
  .call(d3.axisRight(y).tickValues(yTicks).tickFormat("").tickSize(-9))
  .call(styleAxis);

svg.append("rect")
  .attr("x", plotLeft).attr("y", plotTop)
  .attr("width", plotRight - plotLeft).attr("height", plotBottom - plotTop)
  .attr("fill", "none").attr("stroke", "#000").attr("stroke-width", 1.3);

// annotation boxes
function labelBox(txt, px, py, anchorBottom) {
  const g = svg.append("g");
  const rect = g.append("rect");
  const t = g.append("text")
    .attr("x", px + 4.8)
    .style("font-size", "13.6px")
    .style("font-style", "italic")
    .attr("fill", "#000")
    .text(txt);
  t.attr("y", 0);
  const bb = t.node().getBBox();
  const h = bb.height + 6;
  const boxTop = anchorBottom ? py - h : py;
  t.attr("y", boxTop + 3 - bb.y);
  rect.attr("x", px).attr("y", boxTop)
    .attr("width", bb.width + 9.6).attr("height", h)
    .attr("rx", 4).attr("ry", 4)
    .attr("fill", "#fff").attr("stroke", "#555").attr("stroke-width", 1);
}
labelBox(planetLabel, 46.7, 16.7, false);
labelBox(periodLabel, 46.7, 287.7, true);

// legend
const lg = svg.append("g");
lg.append("rect")
  .attr("x", 470.5).attr("y", 15)
  .attr("width", 118).attr("height", 57)
  .attr("fill", "#fff").attr("stroke", "#333").attr("stroke-width", 1);

const rowY = [25.3, 43.3, 61];
[478, 487, 496].forEach(cx => {
  lg.append("circle").attr("cx", cx).attr("cy", rowY[0]).attr("r", 4.5)
    .attr("fill", "#767676").attr("stroke", "#444").attr("stroke-width", 0.8);
});
[479, 488, 497].forEach(cx => {
  lg.append("circle").attr("cx", cx).attr("cy", rowY[1]).attr("r", 7.2)
    .attr("fill", "#ff69b4").attr("stroke", "#333").attr("stroke-width", 0.8);
});
lg.append("line")
  .attr("x1", 478).attr("x2", 497)
  .attr("y1", rowY[2]).attr("y2", rowY[2])
  .attr("stroke", "#5c3494").attr("stroke-width", 2.5);

lg.selectAll("text.lab")
  .data(legendLabels)
  .enter().append("text")
  .attr("class", "lab")
  .attr("x", 509)
  .attr("y", (d, i) => rowY[i])
  .attr("dy", "0.36em")
  .style("font-size", "12px")
  .attr("fill", "#000")
  .text(d => d);
</script>
</body>
</html>
